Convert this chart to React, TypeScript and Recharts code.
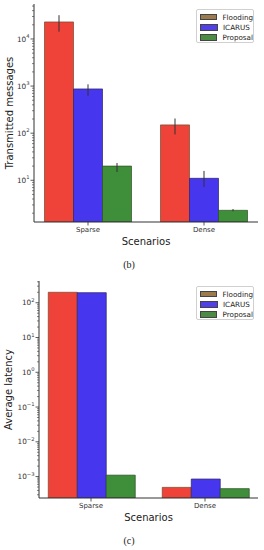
import React from 'react';
import {
  Bar,
  ComposedChart,
  ErrorBar,
  Legend,
  XAxis,
  YAxis,
} from 'recharts';

// categories / series
const scenarios = ['Sparse', 'Dense'];
const seriesNames = ['Flooding', 'ICARUS', 'Proposal'];

// (b) transmitted messages
const floodingMsgs = [23000, 150];
const icarusMsgs = [870, 11];
const proposalMsgs = [20, 2.3];
const floodingMsgsLow = [14300, 94];
const floodingMsgsHigh = [32000, 205];
const icarusMsgsLow = [620, 7.2];
const icarusMsgsHigh = [1090, 15.8];
const proposalMsgsLow = [15, 2.2];
const proposalMsgsHigh = [23.3, 2.45];

// (c) average latency
const floodingLatency = [200, 0.00049];
const icarusLatency = [195, 0.00085];
const proposalLatency = [0.0011, 0.00045];

// y tick labels (decades)
const msgsDecades = [1, 2, 3, 4];
const latencyDecades = [-3, -2, -1, 0, 1, 2];

const msgsDomain = [1.3, 55300];
const latencyDomain = [0.000242, 422];

const barFills = ['#ef4238', '#4636ee', '#3e8e3a'];
const barStrokes = ['#6e4a2c', '#2a2266', '#2d4f22'];
const legendFills = ['#9c7a4e', '#5040e6', '#4b8b43'];

const FONT = '"DejaVu Sans", sans-serif';

const msgsData = scenarios.map((name, i) => ({
  name,
  flooding: floodingMsgs[i],
  icarus: icarusMsgs[i],
  proposal: proposalMsgs[i],
  floodingErr: [floodingMsgs[i] - floodingMsgsLow[i], floodingMsgsHigh[i] - floodingMsgs[i]],
  icarusErr: [icarusMsgs[i] - icarusMsgsLow[i], icarusMsgsHigh[i] - icarusMsgs[i]],
  proposalErr: [proposalMsgs[i] - proposalMsgsLow[i], proposalMsgsHigh[i] - proposalMsgs[i]],
}));

const latencyData = scenarios.map((name, i) => ({
  name,
  flooding: floodingLatency[i],
  icarus: icarusLatency[i],
  proposal: proposalLatency[i],
}));

// major + minor log ticks inside the domain
const logTicks = (decades: number[], domain: number[]) => {
  const out: number[] = [];
  for (let e = decades[0] - 1; e <= decades[decades.length - 1]; e++) {
    for (let m = 1; m <= 9; m++) {
      const v = m * Math.pow(10, e);
      if (v >= domain[0] && v <= domain[1]) out.push(v);
    }
  }
  return out;
};

const LogTick = (props: any) => {
  const { x, y, payload } = props;
  const v = payload.value as number;
  const lg = Math.log10(v);
  const exp = Math.round(lg);
  const isMajor = Math.abs(lg - exp) < 1e-6;
  return (
    <g>
      <line
        x1={x - (isMajor ? 3.5 : 2)}
        x2={x}
        y1={y}
        y2={y}
        stroke='#333'
        strokeWidth={isMajor ? 0.8 : 0.6}
      />
      {isMajor && (
        <text x={x - 4.5} y={y + 2.6} textAnchor='end' fontSize={7.3} fill='#333' fontFamily={FONT}>
          <tspan>10</tspan>
          <tspan dy={-3.6} fontSize={5.2}>
            {exp < 0 ? `\u2212${-exp}` : exp}
          </tspan>
        </text>
      )}
    </g>
  );
};

const LegendBox = () => (
  <div
    style={{
      boxSizing: 'border-box',
      width: 58,
      height: 34,
      border: '1px solid #d0d0d0',
      borderRadius: 2,
      background: 'rgba(255,255,255,0.85)',
      padding: '2px 0 0 3px',
      fontFamily: FONT,
      fontSize: 7.2,
      color: '#222',
    }}
  >
    {seriesNames.map((n, i) => (
      <div key={n} style={{ display: 'flex', alignItems: 'center', height: 10.3 }}>
        <span
          style={{
            display: 'inline-block',
            width: 16,
            height: 4.5,
            background: legendFills[i],
            border: '0.5px solid #444',
            marginRight: 5,
          }}
        />
        {n}
      </div>
    ))}
  </div>
);

type PanelProps = {
  data: any[];
  decades: number[];
  domain: number[];
  yLabel: string;
  yLabelX: number;
  yAxisWidth: number;
  padLeft: number;
  padRight: number;
  height: number;
  withErrors: boolean;
};

const Panel = ({
  data,
  decades,
  domain,
  yLabel,
  yLabelX,
  yAxisWidth,
  padLeft,
  padRight,
  height,
  withErrors,
}: PanelProps) => {
  const keys = ['flooding', 'icarus', 'proposal'];
  return (
    <ComposedChart
      width={264}
      height={height}
      data={data}
      margin={{ top: 4, right: 6, bottom: 0, left: 0 }}
      barCategoryGap='12.5%'
      barGap={0}
      style={{ fontFamily: FONT }}
    >
      <XAxis
        dataKey='name'
        height={30}
        padding={{ left: padLeft, right: padRight }}
        tickSize={3.5}
        tickMargin={1.5}
        axisLine={{ stroke: '#333', strokeWidth: 1 }}
        tickLine={{ stroke: '#333', strokeWidth: 0.8 }}
        tick={{ fontSize: 7, fill: '#333', fontFamily: FONT }}
        label={(p: any) => {
          const vb = p.viewBox;
          return (
            <text
              x={vb.x + vb.width / 2}
              y={vb.y + 23.3}
              textAnchor='middle'
              fontSize={10}
              fill='#222'
              fontFamily={FONT}
            >
              Scenarios
            </text>
          );
        }}
      />
      <XAxis
        xAxisId='top'
        dataKey='name'
        orientation='top'
        height={0}
        tick={false}
        tickLine={false}
        axisLine={{ stroke: '#333', strokeWidth: 1 }}
      />
      <YAxis
        scale='log'
        domain={domain}
        allowDataOverflow
        width={yAxisWidth}
        ticks={logTicks(decades, domain)}
        interval={0}
        tickSize={0}
        tickMargin={0}
        tickLine={false}
        tick={<LogTick />}
        axisLine={{ stroke: '#333', strokeWidth: 1 }}
        label={(p: any) => {
          const vb = p.viewBox;
          const cy = vb.y + vb.height / 2;
          return (
            <text
              x={yLabelX}
              y={cy}
              transform={`rotate(-90, ${yLabelX}, ${cy})`}
              textAnchor='middle'
              dominantBaseline='central'
              fontSize={10}
              fill='#222'
              fontFamily={FONT}
            >
              {yLabel}
            </text>
          );
        }}
      />
      <YAxis
        yAxisId='right'
        orientation='right'
        width={0}
        tick={false}
        tickLine={false}
        axisLine={{ stroke: '#333', strokeWidth: 1 }}
      />
      {keys.map((k, i) => (
        <Bar
          key={k}
          dataKey={k}
          name={seriesNames[i]}
          fill={barFills[i]}
          stroke={barStrokes[i]}
          strokeWidth={0.7}
          isAnimationActive={false}
        >
          {withErrors && (
            <ErrorBar
              dataKey={`${k}Err`}
              width={0}
              stroke='#333'
              strokeWidth={1}
              direction='y'
            />
          )}
        </Bar>
      ))}
      <Legend
        layout='horizontal'
        align='center'
        verticalAlign='middle'
        wrapperStyle={{ left: 196, top: 9, width: 58, height: 34 }}
        content={() => <LegendBox />}
      />
    </ComposedChart>
  );
};

const Caption = ({ text, top }: { text: string; top: number }) => (
  <div
    style={{
      position: 'absolute',
      left: 0,
      top,
      width: 258,
      textAlign: 'center',
      fontFamily: '"Liberation Serif", "DejaVu Serif", serif',
      fontSize: 10,
      lineHeight: '12px',
      color: '#222',
    }}
  >
    {text}
  </div>
);

export default function App() {
  return (
    <div
      style={{
        position: 'absolute',
        left: 0,
        top: 0,
        width: 264,
        height: 550,
        background: '#fff',
        overflow: 'hidden',
      }}
    >
      <div style={{ position: 'absolute', left: 0, top: 0 }}>
        <Panel
          data={msgsData}
          decades={msgsDecades}
          domain={msgsDomain}
          yLabel='Transmitted messages'
          yLabelX={9}
          yAxisWidth={34}
          padLeft={-4}
          padRight={-4}
          height={252}
          withErrors
        />
      </div>
      <Caption text='(b)' top={259} />
      <div style={{ position: 'absolute', left: 0, top: 277 }}>
        <Panel
          data={latencyData}
          decades={latencyDecades}
          domain={latencyDomain}
          yLabel='Average latency'
          yLabelX={8.5}
          yAxisWidth={39}
          padLeft={-5}
          padRight={-4}
          height={251}
          withErrors={false}
        />
      </div>
      <Caption text='(c)' top={535} />
    </div>
  );
}
